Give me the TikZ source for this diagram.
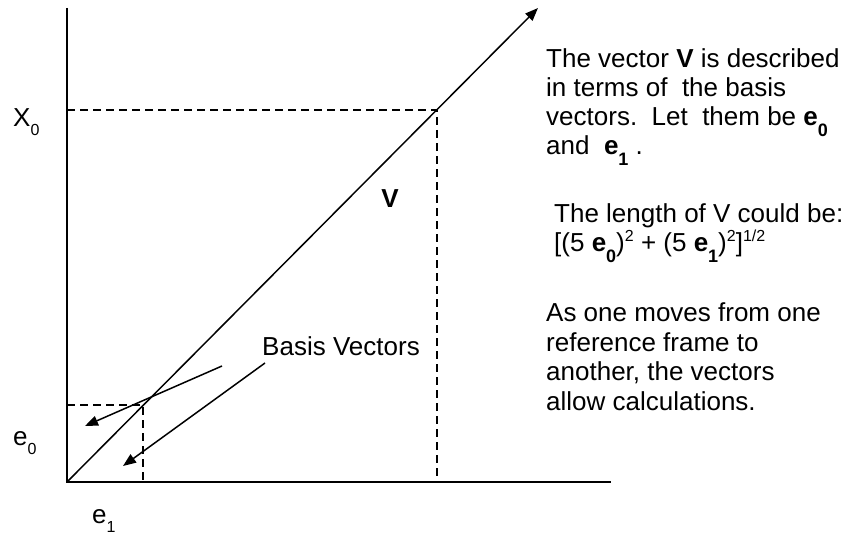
\documentclass[tikz,border=0pt]{standalone}
\usepackage{fontspec}
\setmainfont{Liberation Sans}
\usetikzlibrary{arrows.meta}
\newcommand\lowidx[1]{\raisebox{-9pt}[0pt][0pt]{\fontsize{16}{16}\selectfont #1}}
\newcommand\boldidx[1]{\raisebox{-11pt}[0pt][0pt]{\fontsize{18}{18}\selectfont\bfseries #1}}
\newcommand\highidx[1]{\raisebox{10pt}[0pt][0pt]{\fontsize{16}{16}\selectfont #1}}
\tikzset{
  axis/.style={line width=1.8pt},
  guide/.style={line width=1.8pt, dash pattern=on 8pt off 5pt},
  vecline/.style={-{Triangle[length=13pt,width=10pt]}, line width=1.5pt},
  lbl/.style={font=\fontsize{26}{30}\selectfont, inner sep=0pt},
  note/.style={font=\fontsize{26}{29}\selectfont, align=left, inner sep=0pt, anchor=base west}
}

\begin{document}
\begin{tikzpicture}[x=1pt,y=-1pt]
  \useasboundingbox (0,0) rectangle (844,535);
  % axes and the vector
  \coordinate (O) at (67,482);
  \coordinate (ytop) at (67,8);
  \coordinate (xend) at (611,482);
  \coordinate (vtip) at (538,8);
  \coordinate (P) at (437,110);
  \coordinate (Q) at (143,405);
  \draw[axis] (ytop) -- (O) -- (xend);
  \draw[vecline] (O) -- (vtip);
  \draw[guide] (O |- P) -- (P) -- (P |- O);
  \draw[guide] (O |- Q) -- (Q) -- (Q |- O);
  % labels
  \node[lbl,anchor=base west] (xzero) at (13,127) {X\lowidx{0}};
  \node[lbl,anchor=base west] (ezero) at (13,445) {e\lowidx{0}};
  \node[lbl,anchor=base west] (eone) at (92,523) {e\lowidx{1}};
  \node[lbl,anchor=base,font=\fontsize{26}{30}\selectfont\bfseries] (vname) at (390,207) {V};
  \node[lbl,anchor=base] (basis) at (341,355) {Basis Vectors};
  % basis vector pointers
  \coordinate (bzero) at (222,366);
  \coordinate (bzerotip) at (85,426);
  \coordinate (bone) at (265,363);
  \coordinate (bonetip) at (123,466);
  \draw[vecline] (bzero) -- (bzerotip);
  \draw[vecline] (bone) -- (bonetip);
  % side notes (base = last line)
  \node[note] (aboutv) at (546,154) {The vector \textbf{V} is described\\
    in terms of\ \ the basis\\
    vectors.\ \ Let\ \ them be \textbf{e}\boldidx{0}\\
    and\ \ \textbf{e}\boldidx{1} .};
  \node[note] (aboutlen) at (554,251) {The length of V could be:\\
    {[}(5 \textbf{e}\boldidx{0})\highidx{2} + (5 \textbf{e}\boldidx{1})\highidx{2}]\highidx{1/2}};
  \node[note,font=\fontsize{26}{29.5}\selectfont] (aboutframe) at (546,410) {As one moves from one\\
    reference frame to\\
    another, the vectors\\
    allow calculations.};
\end{tikzpicture}
\end{document}
